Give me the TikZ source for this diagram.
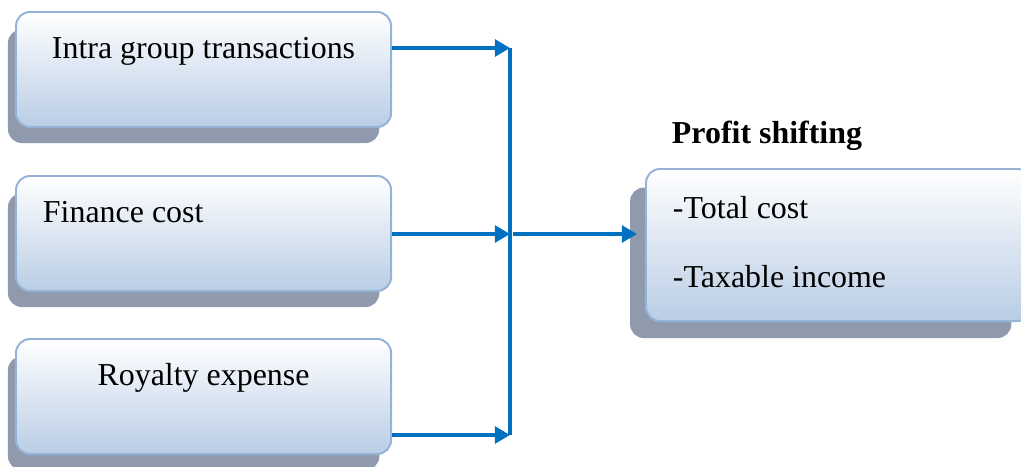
\documentclass[tikz,border=0pt]{standalone}
\usepackage{fontspec}
\setmainfont{Liberation Serif}
\usetikzlibrary{arrows.meta}
\usetikzlibrary{shadows}

\definecolor{boxblue}{RGB}{185,205,229}
\definecolor{boxline}{RGB}{149,179,215}
\definecolor{shadowgray}{RGB}{143,155,172}
\definecolor{flowblue}{RGB}{0,112,192}

\begin{document}
\begin{tikzpicture}[x=0.025cm, y=-0.025cm,
	boxshade/.style 2 args={drop shadow={shadow xshift=#1, shadow yshift=#2,
		shadow scale=0.99, fill=shadowgray, opacity=1}}]

\tikzstyle{every node}=[font=\fontsize{22.7}{27.2}\selectfont]
\tikzstyle{factor}=[draw=boxline, line width=1.4pt, rounded corners=0.35cm,
	top color=white, bottom color=boxblue,
	inner xsep=0.675cm, inner ysep=0pt, text width=8.025cm]
\tikzstyle{cause}=[factor, boxshade={-0.25cm}{-0.42cm},
	anchor=north west, text height=1.175cm, text depth=1.7cm]
\tikzstyle{flow}=[draw=flowblue, line width=2.6pt,
	-{Triangle[length=0.38cm, width=0.42cm]}]

\useasboundingbox (0,0) rectangle (1021,467);

\node (intra) at (15,11) [cause, align=flush center] {Intra group transactions};
\node (finance) at (15,175) [cause, align=flush left] {Finance cost};
\node (royalty) at (15,338) [cause, align=flush center] {Royalty expense};

\node (profit) at (645,168) [factor, boxshade={-0.45cm}{-0.45cm},
	anchor=north west, align=flush left, text width=8.275cm,
	text height=1.25cm, text depth=2.55cm]
	{-Total cost\\[0.75cm]-Taxable income};
\node (title) at (667,143) [anchor=base west,
	font=\fontsize{22.7}{27.2}\selectfont\bfseries] {Profit shifting};

\coordinate (jtop) at (510,48);
\coordinate (jmid) at (510,234);
\coordinate (jbot) at (510,435);

\draw[flow] (intra.east |- jtop) -- (jtop);
\draw[flow] (finance.east |- jmid) -- (jmid);
\draw[flow] (royalty.east |- jbot) -- (jbot);
\draw[draw=flowblue, line width=2.6pt] (jtop) -- (jbot);
\draw[flow, shorten >=0.2cm] ([xshift=0.075cm]jmid) -- (profit.west |- jmid);

\end{tikzpicture}
\end{document}
